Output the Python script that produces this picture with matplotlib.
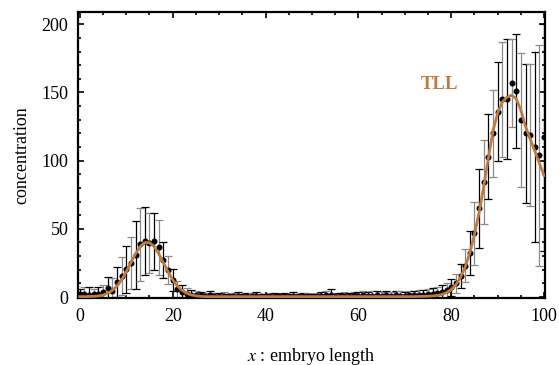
import numpy as np
import matplotlib
matplotlib.use('Agg')
import matplotlib.pyplot as plt
from matplotlib.ticker import MultipleLocator

plt.rcParams['font.family'] = ['Liberation Serif', 'DejaVu Serif']
plt.rcParams['mathtext.fontset'] = 'stix'

# position along embryo (0..100)
pos = np.arange(0, 101)

# measured TLL concentration (dots)
conc = [2.0, 2.5, 1.5, 2.0, 2.5, 3.5, 6.4, 4.6, 11.2, 15.4,
        20.3, 24.7, 30.7, 38.6, 41.2, 39.3, 40.8, 36.4, 27.0, 19.8,
        12.4, 6.0, 4.0, 2.5, 1.8, 1.5, 1.2, 1.0, 1.4, 0.8,
        0.9, 1.1, 0.7, 0.8, 1.0, 0.6, 0.9, 0.7, 1.0, 0.8,
        0.6, 0.7, 0.9, 0.6, 0.8, 0.7, 1.0, 0.6, 0.8, 0.9,
        0.7, 0.8, 1.0, 1.2, 1.5, 1.0, 0.8, 1.1, 0.9, 1.2,
        1.0, 1.3, 0.9, 1.1, 1.4, 1.0, 1.2, 0.9, 1.3, 1.1,
        1.0, 1.2, 1.3, 1.5, 1.8, 2.0, 2.5, 3.0, 4.0, 5.0,
        7.0, 10.0, 15.4, 23.0, 32.4, 46.6, 65.0, 84.4, 103.0, 120.0,
        136.0, 145.0, 145.0, 157.0, 151.0, 130.0, 120.0, 119.0, 110.0, 104.0,
        117.0]

# error bar half widths
err = [4.0, 5.0, 6.0, 4.0, 5.0, 5.0, 8.0, 9.0, 11.0, 14.0,
       17.0, 19.0, 25.0, 27.0, 25.0, 22.0, 21.0, 20.0, 13.0, 10.0,
       8.0, 6.0, 5.0, 4.0, 3.5, 3.0, 2.5, 2.0, 3.0, 2.0,
       2.0, 2.5, 1.5, 2.0, 2.5, 1.5, 2.0, 2.0, 2.5, 1.5,
       1.5, 2.0, 2.0, 1.5, 2.0, 1.5, 2.5, 1.5, 2.0, 2.0,
       1.5, 2.0, 2.5, 3.0, 4.5, 2.0, 2.0, 2.5, 2.0, 2.5,
       2.5, 3.0, 2.5, 3.0, 3.0, 2.5, 3.0, 2.5, 3.0, 3.0,
       2.5, 3.0, 3.0, 3.5, 3.5, 4.0, 4.0, 4.5, 5.0, 5.5,
       6.0, 7.0, 9.0, 12.0, 16.0, 23.0, 29.0, 31.0, 31.0, 32.0,
       36.0, 42.0, 44.0, 32.0, 42.0, 49.0, 51.0, 52.0, 70.0, 81.0,
       83.0]

# fitted model curve
fit = [0.3, 0.3, 0.4, 0.5, 0.8, 1.4, 2.8, 4.9, 8.1, 12.7,
       18.6, 25.2, 31.7, 37.0, 39.9, 39.9, 37.0, 31.7, 25.2, 18.6,
       12.7, 8.1, 4.9, 2.8, 1.5, 0.9, 0.5, 0.3, 0.3, 0.3,
       0.3, 0.3, 0.3, 0.3, 0.3, 0.3, 0.3, 0.3, 0.3, 0.3,
       0.3, 0.3, 0.3, 0.3, 0.3, 0.3, 0.3, 0.3, 0.3, 0.3,
       0.3, 0.3, 0.3, 0.3, 0.3, 0.3, 0.3, 0.3, 0.3, 0.3,
       0.3, 0.3, 0.3, 0.3, 0.3, 0.3, 0.3, 0.3, 0.3, 0.3,
       0.3, 0.3, 0.35, 0.4, 0.5, 0.6, 0.8, 1.2, 1.9, 3.2,
       5.5, 9.0, 14.5, 22.0, 32.5, 46.0, 62.0, 81.0, 102.0, 122.0,
       135.0, 143.0, 146.5, 148.0, 145.5, 137.0, 125.0, 116.0, 107.0, 98.0,
       89.0]

orange = '#BF7A3E'

fig = plt.figure(figsize=(5.59, 3.65), dpi=100)
ax = fig.add_axes([0.1395, 0.1836, 0.8355, 0.7835])

# alternate black / grey error bars
for i in range(len(pos)):
    col = 'black' if i % 2 == 0 else '#8a8a8a'
    ax.errorbar(pos[i], conc[i], yerr=err[i], fmt='none', ecolor=col,
                elinewidth=0.9, capsize=2.8, capthick=0.9, zorder=2)
ax.plot(pos, conc, 'o', color='black', markersize=3.3, zorder=3)
ax.plot(pos, fit, color=orange, linewidth=2.0, zorder=4)

ax.text(77.5, 156, 'TLL', color=orange, fontsize=13.5, fontweight='bold',
        ha='center', va='center')

ax.set_xlim(-0.4, 100.2)
ax.set_ylim(-0.7, 209)
ax.xaxis.set_major_locator(MultipleLocator(20))
ax.xaxis.set_minor_locator(MultipleLocator(5))
ax.yaxis.set_major_locator(MultipleLocator(50))
ax.yaxis.set_minor_locator(MultipleLocator(10))
ax.tick_params(which='both', direction='in', top=True, right=True,
               labelsize=13, width=1.2)
ax.tick_params(which='major', length=4.5, pad=7)
ax.tick_params(which='minor', length=2.5)
for s in ax.spines.values():
    s.set_linewidth(1.6)

ax.set_xlabel('$x$ : embryo length', fontsize=13, labelpad=15)
ax.set_ylabel('concentration', fontsize=13, labelpad=8)

fig.savefig('out.png', dpi=100)
